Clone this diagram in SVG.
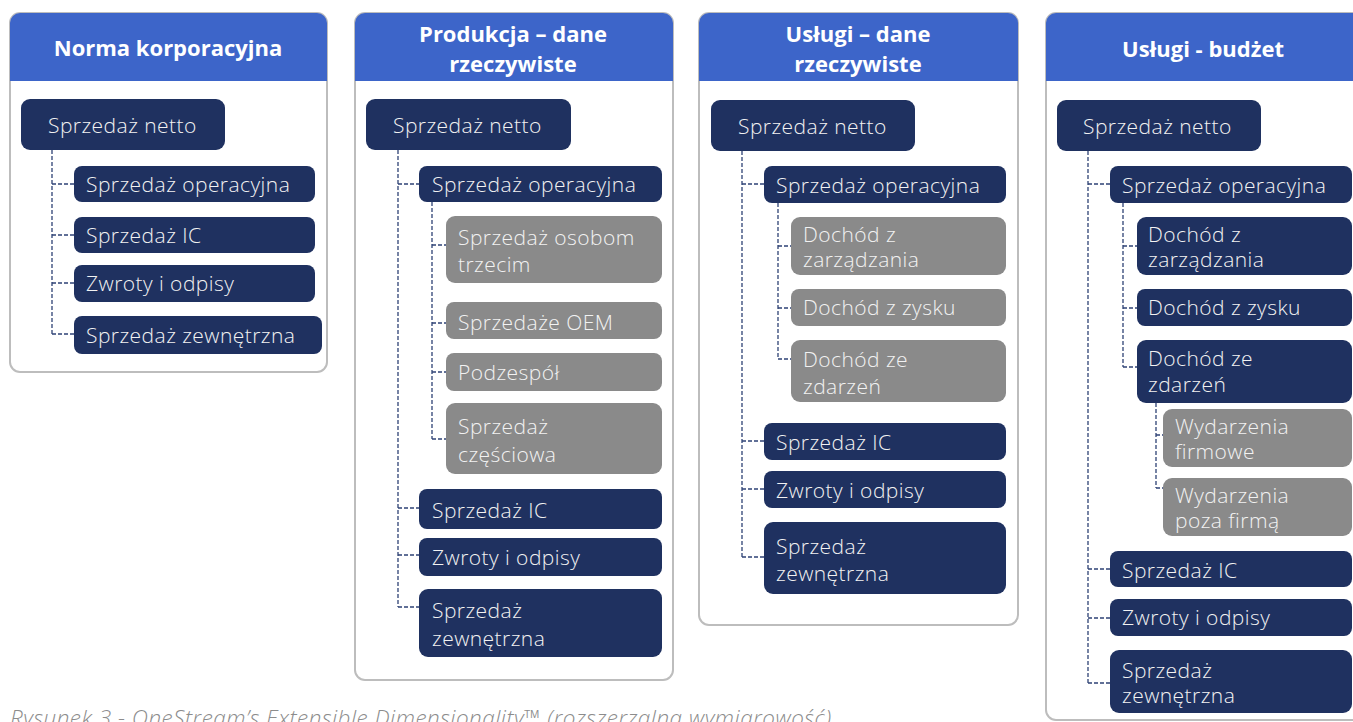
<svg xmlns="http://www.w3.org/2000/svg" width="1353" height="722" viewBox="0 0 1353 722">
<style>
.panel{fill:#fff;stroke:#bdbdbd;stroke-width:2}
.hdr{fill:#3d65c9}
.ttl{font-family:"Open Sans",Lato,sans-serif;font-weight:700;font-size:22px;fill:#fff;text-anchor:middle}
.nv{fill:#1f3160}
.gr{fill:#8a8a8a}
.t{font-family:"Open Sans",Lato,sans-serif;font-weight:300;font-size:21px;letter-spacing:0.45px;fill:#f2f2f2}
.c{fill:none;stroke:#2e4275;stroke-width:1.3;stroke-dasharray:4 2}
.cap{font-family:"Open Sans",Lato,sans-serif;font-style:italic;font-weight:300;font-size:22.5px;letter-spacing:0.5px;fill:#8c8c8c}
</style>
<rect width="1353" height="722" fill="#fff"/>

<g id="panel1">
<rect class="panel" x="10" y="13" width="317" height="359" rx="10"/>
<path class="hdr" d="M10,81 V23 a10,10 0 0 1 10,-10 H317 a10,10 0 0 1 10,10 V81 Z"/>
<text class="ttl" x="168" y="56">Norma korporacyjna</text>
</g>
<g id="panel2">
<rect class="panel" x="355" y="13" width="318" height="667" rx="10"/>
<path class="hdr" d="M355,81 V23 a10,10 0 0 1 10,-10 H663 a10,10 0 0 1 10,10 V81 Z"/>
<text class="ttl" x="513" y="42">Produkcja – dane</text>
<text class="ttl" x="513" y="72">rzeczywiste</text>
</g>
<g id="panel3">
<rect class="panel" x="699" y="13" width="319" height="612" rx="10"/>
<path class="hdr" d="M699,81 V23 a10,10 0 0 1 10,-10 H1008 a10,10 0 0 1 10,10 V81 Z"/>
<text class="ttl" x="858" y="42">Usługi – dane</text>
<text class="ttl" x="858" y="72">rzeczywiste</text>
</g>
<g id="panel4">
<rect class="panel" x="1046" y="13" width="330" height="707" rx="10"/>
<path class="hdr" d="M1046,81 V23 a10,10 0 0 1 10,-10 H1376 V81 Z"/>
<text class="ttl" x="1203" y="57">Usługi - budżet</text>
</g>

<g id="connectors">
<path class="c" d="M52,150 V334 M52,184 H74 M52,235 H74 M52,283 H74 M52,334 H74"/>
<path class="c" d="M398,150 V607 M398,184 H419 M398,508 H419 M398,555 H419 M398,607 H419"/>
<path class="c" d="M432,202 V439 M432,245 H446 M432,323 H446 M432,372 H446 M432,439 H446"/>
<path class="c" d="M742,151 V557 M742,184 H764 M742,441 H764 M742,489 H764 M742,557 H764"/>
<path class="c" d="M778,203 V359 M778,246 H791 M778,308 H791 M778,359 H791"/>
<path class="c" d="M1088,151 V683 M1088,184 H1110 M1088,569 H1110 M1088,618 H1110 M1088,683 H1110"/>
<path class="c" d="M1123,203 V367 M1123,246 H1137 M1123,308 H1137 M1123,367 H1137"/>
<path class="c" d="M1156,403 V488 M1156,435 H1163 M1156,488 H1163"/>
</g>

<g id="p1-netto"><rect class="nv" x="21" y="99" width="204" height="51" rx="9"/><text class="t" x="48" y="133">Sprzedaż netto</text></g>
<g id="p1-oper"><rect class="nv" x="74" y="166" width="241" height="36" rx="8"/><text class="t" x="86" y="192">Sprzedaż operacyjna</text></g>
<g id="p1-ic"><rect class="nv" x="74" y="217" width="241" height="36" rx="8"/><text class="t" x="86" y="243">Sprzedaż IC</text></g>
<g id="p1-zwroty"><rect class="nv" x="74" y="265" width="241" height="37" rx="8"/><text class="t" x="86" y="291">Zwroty i odpisy</text></g>
<g id="p1-zewn"><rect class="nv" x="74" y="316" width="248" height="38" rx="8"/><text class="t" x="86" y="343">Sprzedaż zewnętrzna</text></g>

<g id="p2-netto"><rect class="nv" x="366" y="99" width="205" height="51" rx="9"/><text class="t" x="393" y="133">Sprzedaż netto</text></g>
<g id="p2-oper"><rect class="nv" x="419" y="166" width="243" height="36" rx="8"/><text class="t" x="432" y="192">Sprzedaż operacyjna</text></g>
<g id="p2-osobom"><rect class="gr" x="446" y="216" width="216" height="67" rx="9"/><text class="t" x="458" y="245">Sprzedaż osobom</text><text class="t" x="458" y="272">trzecim</text></g>
<g id="p2-oem"><rect class="gr" x="446" y="302" width="216" height="37" rx="8"/><text class="t" x="458" y="330">Sprzedaże OEM</text></g>
<g id="p2-podz"><rect class="gr" x="446" y="353" width="216" height="38" rx="8"/><text class="t" x="458" y="380">Podzespół</text></g>
<g id="p2-czesc"><rect class="gr" x="446" y="403" width="216" height="71" rx="9"/><text class="t" x="458" y="434">Sprzedaż</text><text class="t" x="458" y="462">częściowa</text></g>
<g id="p2-ic"><rect class="nv" x="419" y="489" width="243" height="40" rx="8"/><text class="t" x="432" y="518">Sprzedaż IC</text></g>
<g id="p2-zwroty"><rect class="nv" x="419" y="538" width="243" height="38" rx="8"/><text class="t" x="432" y="565">Zwroty i odpisy</text></g>
<g id="p2-zewn"><rect class="nv" x="419" y="589" width="243" height="68" rx="9"/><text class="t" x="432" y="618">Sprzedaż</text><text class="t" x="432" y="646">zewnętrzna</text></g>

<g id="p3-netto"><rect class="nv" x="711" y="100" width="204" height="51" rx="9"/><text class="t" x="738" y="134">Sprzedaż netto</text></g>
<g id="p3-oper"><rect class="nv" x="764" y="166" width="242" height="37" rx="8"/><text class="t" x="776" y="193">Sprzedaż operacyjna</text></g>
<g id="p3-zarz"><rect class="gr" x="791" y="217" width="215" height="58" rx="9"/><text class="t" x="803" y="242">Dochód z</text><text class="t" x="803" y="267">zarządzania</text></g>
<g id="p3-zysk"><rect class="gr" x="791" y="289" width="215" height="37" rx="8"/><text class="t" x="803" y="315">Dochód z zysku</text></g>
<g id="p3-zdarz"><rect class="gr" x="791" y="340" width="215" height="62" rx="9"/><text class="t" x="803" y="367">Dochód ze</text><text class="t" x="803" y="394">zdarzeń</text></g>
<g id="p3-ic"><rect class="nv" x="764" y="423" width="242" height="37" rx="8"/><text class="t" x="776" y="450">Sprzedaż IC</text></g>
<g id="p3-zwroty"><rect class="nv" x="764" y="471" width="242" height="37" rx="8"/><text class="t" x="776" y="498">Zwroty i odpisy</text></g>
<g id="p3-zewn"><rect class="nv" x="764" y="522" width="242" height="72" rx="9"/><text class="t" x="776" y="554">Sprzedaż</text><text class="t" x="776" y="581">zewnętrzna</text></g>

<g id="p4-netto"><rect class="nv" x="1057" y="100" width="204" height="51" rx="9"/><text class="t" x="1083" y="134">Sprzedaż netto</text></g>
<g id="p4-oper"><rect class="nv" x="1110" y="166" width="242" height="37" rx="8"/><text class="t" x="1122" y="193">Sprzedaż operacyjna</text></g>
<g id="p4-zarz"><rect class="nv" x="1137" y="217" width="215" height="58" rx="9"/><text class="t" x="1148" y="242">Dochód z</text><text class="t" x="1148" y="267">zarządzania</text></g>
<g id="p4-zysk"><rect class="nv" x="1137" y="289" width="215" height="37" rx="8"/><text class="t" x="1148" y="315">Dochód z zysku</text></g>
<g id="p4-zdarz"><rect class="nv" x="1137" y="340" width="215" height="63" rx="9"/><text class="t" x="1148" y="366">Dochód ze</text><text class="t" x="1148" y="392">zdarzeń</text></g>
<g id="p4-firm"><rect class="gr" x="1163" y="409" width="189" height="58" rx="9"/><text class="t" x="1175" y="434">Wydarzenia</text><text class="t" x="1175" y="459">firmowe</text></g>
<g id="p4-poza"><rect class="gr" x="1163" y="478" width="189" height="58" rx="9"/><text class="t" x="1175" y="503">Wydarzenia</text><text class="t" x="1175" y="528">poza firmą</text></g>
<g id="p4-ic"><rect class="nv" x="1110" y="551" width="242" height="36" rx="8"/><text class="t" x="1122" y="578">Sprzedaż IC</text></g>
<g id="p4-zwroty"><rect class="nv" x="1110" y="599" width="242" height="37" rx="8"/><text class="t" x="1122" y="625">Zwroty i odpisy</text></g>
<g id="p4-zewn"><rect class="nv" x="1110" y="650" width="242" height="63" rx="9"/><text class="t" x="1122" y="678">Sprzedaż</text><text class="t" x="1122" y="703">zewnętrzna</text></g>

<text class="cap" x="10" y="726">Rysunek 3 - OneStream’s Extensible Dimensionality™ (rozszerzalna wymiarowość)</text>
</svg>
